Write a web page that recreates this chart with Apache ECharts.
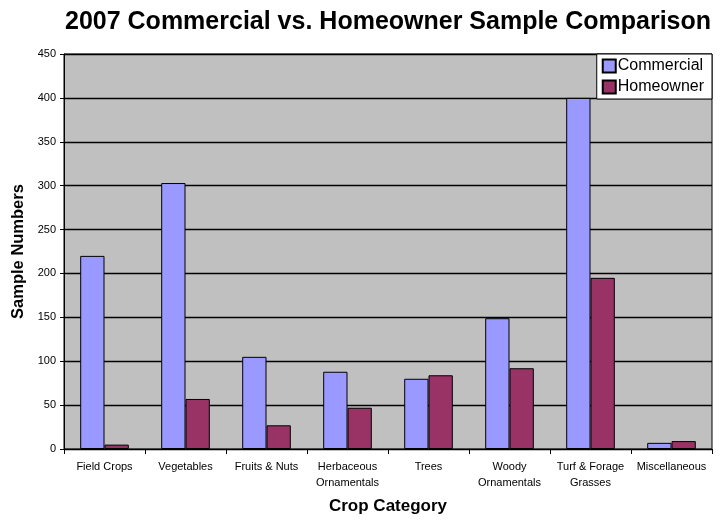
<!DOCTYPE html>
<html>
<head>
<meta charset="utf-8">
<script src="https://cdn.jsdelivr.net/npm/echarts@6/dist/echarts.min.js"></script>
<style>
  html, body { margin: 0; padding: 0; background: #fff; }
  #chart { width: 722px; height: 522px; }
</style>
</head>
<body>
<div id="chart"></div>
<script>
  var categories = ['Field Crops', 'Vegetables', 'Fruits & Nuts', 'Herbaceous\nOrnamentals', 'Trees',
    'Woody\nOrnamentals', 'Turf & Forage\nGrasses', 'Miscellaneous'];
  var commercial = [220, 303, 105, 88, 80, 149, 400, 7];
  var homeowner = [5, 57, 27, 47, 84, 92, 195, 9];

  var font = '"Liberation Sans", Arial, sans-serif';
  var chart = echarts.init(document.getElementById('chart'));

  chart.setOption({
    animation: false,
    title: {
      text: '2007 Commercial vs. Homeowner Sample Comparison',
      left: 60,
      top: 5,
      textStyle: { fontFamily: font, fontSize: 25, fontWeight: 'bold', color: '#000' }
    },
    legend: {
      data: ['Commercial', 'Homeowner'],
      orient: 'vertical',
      right: 10,
      top: 54,
      icon: 'rect',
      itemWidth: 13,
      itemHeight: 13,
      itemGap: 5,
      padding: [4, 8, 4, 5],
      backgroundColor: '#fff',
      borderColor: '#000',
      borderWidth: 1,
      textStyle: { fontFamily: font, fontSize: 16, color: '#000', padding: [0, 0, 0, -3] }
    },
    grid: {
      left: 64,
      right: 10,
      top: 54,
      bottom: 73,
      outerBoundsMode: 'none',
      containLabel: false,
      show: true,
      backgroundColor: '#C0C0C0',
      borderColor: '#000',
      borderWidth: 1
    },
    xAxis: {
      type: 'category',
      data: categories,
      name: 'Crop Category',
      nameLocation: 'middle',
      nameGap: 49,
      nameTextStyle: { fontFamily: font, fontSize: 17, fontWeight: 'bold', color: '#000' },
      axisLine: { lineStyle: { color: '#000', width: 1 } },
      axisTick: { show: true, length: 5, lineStyle: { color: '#000' } },
      axisLabel: { fontFamily: font, fontSize: 11, color: '#000', margin: 10, lineHeight: 16, interval: 0 }
    },
    yAxis: {
      type: 'value',
      min: 0,
      max: 450,
      interval: 50,
      name: 'Sample Numbers',
      nameLocation: 'middle',
      nameGap: 33,
      nameTextStyle: { fontFamily: font, fontSize: 16.5, fontWeight: 'bold', color: '#000' },
      axisLine: { show: true, lineStyle: { color: '#000', width: 1 } },
      axisTick: { show: true, length: 4, lineStyle: { color: '#000' } },
      axisLabel: { fontFamily: font, fontSize: 11, color: '#000', margin: 8 },
      splitLine: { lineStyle: { color: '#000', width: 1.3 } }
    },
    series: [
      {
        name: 'Commercial',
        type: 'bar',
        data: commercial,
        barGap: '0%',
        barCategoryGap: '40%',
        itemStyle: { color: '#9999FF', borderColor: '#000', borderWidth: 1 }
      },
      {
        name: 'Homeowner',
        type: 'bar',
        data: homeowner,
        barGap: '0%',
        barCategoryGap: '40%',
        itemStyle: { color: '#993366', borderColor: '#000', borderWidth: 1 }
      }
    ]
  });
</script>
</body>
</html>
